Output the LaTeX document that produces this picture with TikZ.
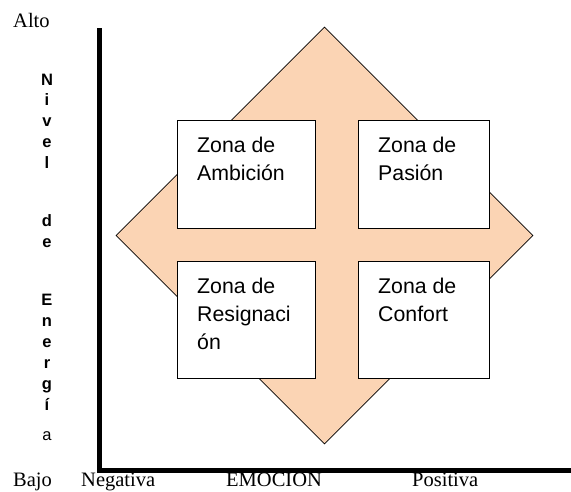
\documentclass[tikz,border=0pt]{standalone}
\usepackage{fontspec}
\setmainfont{Liberation Serif}
\setsansfont{Liberation Sans}
\usepackage{tikz}
\usetikzlibrary{shapes.geometric,positioning}
\definecolor{durazno}{HTML}{FBD4B4}
\tikzset{every node/.append style={transform shape=false}}
\tikzset{zona/.style={draw=black, line width=1.2pt, fill=white, anchor=north west, inner sep=0pt}}
\tikzset{zonatxt/.style={anchor=north west, inner sep=0pt, align=left,
    font=\sffamily\fontsize{21.3}{28}\selectfont}}
\tikzset{eje/.style={anchor=base west, inner sep=0pt, font=\fontsize{20.5}{24}\selectfont}}
\tikzset{letra/.style={anchor=base, inner sep=0pt, font=\sffamily\bfseries\fontsize{16.5}{20}\selectfont}}

\begin{document}
\begin{tikzpicture}[x=1pt,y=-1pt]
  \useasboundingbox (0,0) rectangle (571,491);

  % el rombo de fondo
  \node[diamond, draw=black, line width=0.8pt, fill=durazno, inner sep=0pt,
        minimum width=417pt, minimum height=417pt] (rombo) at (324.5,235.5) {};

  % ejes
  \coordinate (ytop) at (99.5,28);
  \coordinate (origen) at (99.5,470.5);
  \coordinate (xend) at (571,470.5);
  \draw[line width=5pt, line join=miter] (ytop)--(origen)--(xend);

  % las cuatro zonas
  \node[zona, minimum width=138pt, minimum height=108pt] (amb) at (177,120) {};
  \node[zona, minimum width=131pt, minimum height=108pt] (pas) at (358,120) {};
  \node[zona, minimum width=138pt, minimum height=117pt] (res) at (177,261) {};
  \node[zona, minimum width=131pt, minimum height=117pt] (con) at (358,261) {};

  \node[zonatxt] (ambtxt) at ([xshift=20pt,yshift=-17pt]amb.north west) {Zona de\\Ambición};
  \node[zonatxt] (pastxt) at ([xshift=20pt,yshift=-17pt]pas.north west) {Zona de\\Pasión};
  \node[zonatxt] (restxt) at ([xshift=20pt,yshift=-17pt]res.north west) {Zona de\\Resignaci\\ón};
  \node[zonatxt] (contxt) at ([xshift=20pt,yshift=-17pt]con.north west) {Zona de\\Confort};

  % eje vertical
  \node[eje] (alto) at (13,27.5) {Alto};
  \foreach \ch/\yy [count=\k] in {N/85, i/105, v/126, e/147, l/168, d/226, e/247,
                                 E/305, n/326, e/347, r/368, g/389, í/410}{
    \node[letra] (let\k) at (47,\yy) {\ch};
  };
  \node[letra, font=\sffamily\fontsize{16.5}{20}\selectfont] (letA) at (47,440) {a};

  % eje horizontal
  \node[eje] (bajo) at (13,486) {Bajo};
  \node[eje] (neg) at (81,486) {Negativa};
  \node[eje] (emo) at (226,486) {EMOCION};
  \node[eje] (pos) at (412,486) {Positiva};
\end{tikzpicture}
\end{document}
